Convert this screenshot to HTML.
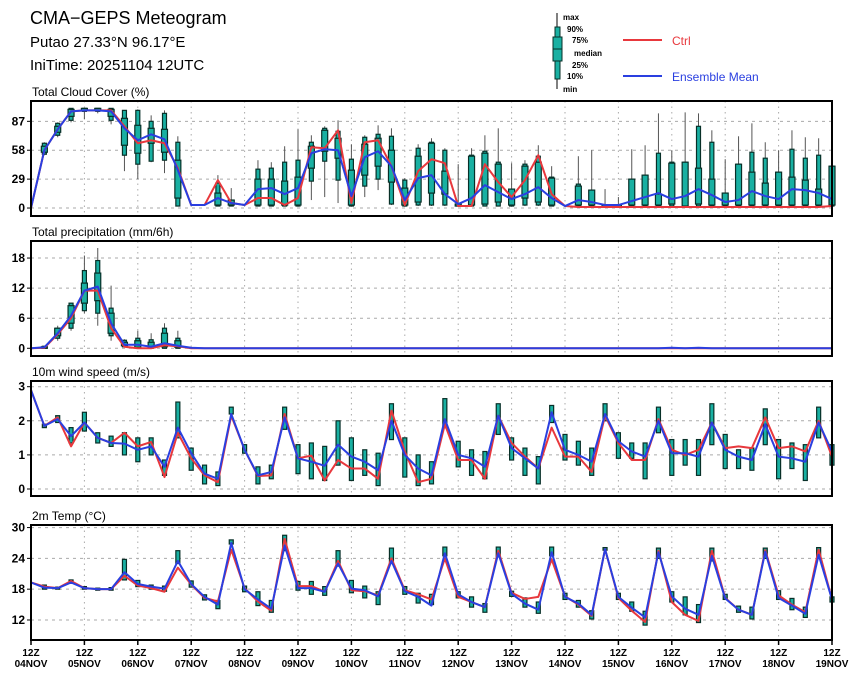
<!DOCTYPE html>
<html><head><meta charset="utf-8"><style>
body{margin:0;background:#fff}
svg{display:block;font-family:"Liberation Sans",sans-serif}
</style></head><body>
<svg id="chart" width="860" height="678" viewBox="0 0 860 678" xmlns="http://www.w3.org/2000/svg">
<rect width="860" height="678" fill="#fff"/>
<text x="30" y="24" font-size="18">CMA−GEPS Meteogram</text>
<text x="30" y="47" font-size="15">Putao 27.33°N 96.17°E</text>
<text x="30" y="70" font-size="15">IniTime: 20251104 12UTC</text>
<g font-size="8" font-weight="bold">
<line x1="557" y1="13" x2="557" y2="89" stroke="#000" stroke-width="1"/>
<rect x="555" y="27" width="5" height="52" fill="#19b0a2" stroke="#083028"/>
<rect x="553" y="37" width="9" height="24" fill="#19b0a2" stroke="#083028"/>
<line x1="553" y1="49" x2="562" y2="49" stroke="#083028"/>
<text x="563" y="20">max</text><text x="567" y="32">90%</text><text x="572" y="43">75%</text>
<text x="574" y="56">median</text><text x="572" y="68">25%</text><text x="567" y="79">10%</text><text x="563" y="92">min</text>
<line x1="623" y1="40" x2="662" y2="40" stroke="#e8383d" stroke-width="2"/>
<text x="672" y="45" font-size="12" font-weight="normal" fill="#e8383d">Ctrl</text>
<line x1="623" y1="76" x2="662" y2="76" stroke="#2a3fe0" stroke-width="2"/>
<text x="672" y="81" font-size="12" font-weight="normal" fill="#2a3fe0">Ensemble Mean</text>
</g>
</svg>
<script>
const N = 61;
const cloudMean = [0,58,79,97,98,98,97,80,68,74,69,38,3,3,10,5,3,19,20,14,20,55,59,58,12,51,57,42,8,30,33,14,4,10,23,16,9,14,21,10,2,8,6,3,3,7,11,15,9,12,19,13,6,8,17,12,9,19,18,15,9];
const cloudCtrl = [0,58,79,97,98,98,98,82,65,68,65,40,3,3,28,5,3,10,10,3,10,61,60,78,5,66,68,42,3,37,49,45,2,2,44,26,11,28,53,14,2,1,1,1,1,1,1,1,1,1,1,1,1,1,1,1,1,1,1,1,2];
const cloudP10 = [null,54,73,88,97,97,88,53,44,47,48,2,null,null,2,2,null,2,2,2,2,27,47,28,2,22,29,4,2,3,3,3,2,2,2,2,2,3,3,2,null,2,2,2,2,2,2,2,2,2,2,2,2,2,2,2,2,2,2,2,2];
const cloudP25 = [null,56,76,92,98,98,92,63,55,65,56,10,null,null,3,3,null,3,3,3,3,40,57,50,3,33,42,26,3,6,15,14,2,3,4,6,3,10,6,3,null,3,3,2,2,3,3,3,4,2,4,3,3,3,3,3,3,3,3,3,3];
const cloudP75 = [null,62,82,99,100,100,99,90,83,80,79,48,null,null,15,8,null,29,29,27,31,62,78,70,38,64,70,58,20,52,65,37,4,52,55,44,19,42,46,30,null,22,18,3,3,29,33,14,45,46,40,29,15,44,36,25,36,31,28,19,42];
const cloudP90 = [null,65,85,100,100,100,100,98,98,87,95,66,null,null,25,8,null,39,40,46,48,66,80,77,49,71,74,72,28,60,66,58,4,53,57,46,19,44,52,31,null,24,18,3,3,29,33,55,46,46,82,66,15,44,56,50,36,59,50,53,42];
const cloudMin = [null,53,71,86,89,95,84,37,29,46,35,2,null,null,2,2,null,2,2,2,2,8,11,5,2,11,18,3,2,2,2,2,2,2,2,2,2,2,2,2,null,2,2,2,2,2,2,2,2,2,2,2,2,2,2,2,2,2,2,2,2];
const cloudMax = [null,66,86,100,100,100,100,98,99,93,98,72,null,null,33,20,null,48,46,62,79,73,82,88,64,73,83,80,30,64,70,60,44,60,73,80,45,48,63,42,null,52,58,19,11,59,63,95,58,96,95,78,49,72,85,66,58,78,71,70,42];

const precipMean = [0,0.2,3,6.5,11.5,12.3,5,0.7,0.7,0.3,1,0.5,0.1,0,0,0,0,0,0,0,0,0,0,0,0,0,0,0,0,0,0,0,0,0,0,0,0,0,0,0,0,0,0,0,0,0,0,0,0.1,0,0.1,0,0,0,0,0,0,0,0,0,0];
const precipCtrl = [0,0.1,2.8,6,11.5,11.5,4,0.3,0,0,0.6,0.4,0,0,0,0,0,0,0,0,0,0,0,0,0,0,0,0,0,0,0,0,0,0,0,0,0,0,0,0,0,0,0,0,0,0,0,0,0,0,0,0,0,0,0,0,0,0,0,0,0];
const precipP10 = [null,0,2,4,7.5,7,2.5,0.3,0,0,0,0];
const precipP25 = [null,0.1,2.5,5,9,9.5,3,0.5,0.2,0.1,0.3,0.2];
const precipP75 = [null,0.3,4,8.5,13,15,7,1.2,1.5,1.2,3,1.5];
const precipP90 = [null,0.4,4,9,15.5,17.5,8,1.6,2,1.7,4,2];
const precipMin = [null,0,1.5,3.5,7,4.5,1.5,0.2,0,0,0,0];
const precipMax = [null,0.5,4.5,9,18.5,20,12.5,1.8,3.5,3,5,3.5,0.5,0,0,0,0,0,0,0,0,0,1.2,0,0,0,0,0.8,0,0,0,0,0,0,0,0,0,0,0,0,0,0,0,0,0,0,0,0,7.5,0,3.5,0,0,3,0,0,0,0,0,0,0];

const windMean = [2.9,1.85,2.05,1.55,1.95,1.5,1.35,1.33,1.15,1.25,0.65,1.8,1.05,0.45,0.3,2.2,1.15,0.4,0.5,2.1,0.9,0.8,0.68,1.3,0.95,0.8,0.55,2.0,1.0,0.6,0.4,2.05,1.0,0.9,0.65,2.15,1.2,0.9,0.6,2.25,1.15,1.0,0.8,2.2,1.4,1.1,0.95,2.0,1.05,1.05,0.95,1.95,1.15,0.95,0.85,1.9,0.95,0.9,0.8,1.95,1.1];
const windCtrl = [2.9,1.85,2.1,1.25,1.95,1.5,1.35,1.65,1.25,1.38,0.35,1.65,0.9,0.4,0.2,2.15,1.15,0.38,0.4,2.2,0.9,0.98,0.25,0.85,0.6,0.6,0.3,2.3,1.1,0.2,0.3,1.9,0.85,0.85,0.3,2.15,1.35,0.95,0.6,1.8,0.95,0.95,0.5,2.15,1.35,0.85,0.85,2.05,1.15,1.0,1.15,1.95,1.2,1.25,1.2,2.1,1.2,1.25,1.1,2.0,0.95];
const windLo = [null,1.8,1.95,1.35,1.7,1.35,1.25,1.0,0.8,1.0,0.4,1.5,0.55,0.15,0.1,2.2,1.05,0.15,0.3,1.75,0.45,0.3,0.25,0.7,0.25,0.4,0.1,1.45,0.35,0.1,0.15,1.8,0.65,0.4,0.3,1.6,0.85,0.4,0.15,1.95,0.85,0.7,0.4,2.0,0.9,0.9,0.3,1.65,0.4,0.7,0.4,1.3,0.6,0.6,0.55,1.3,0.3,0.6,0.25,1.5,0.7];
const windHi = [null,1.9,2.15,1.8,2.25,1.65,1.55,1.65,1.5,1.5,0.85,2.55,1.2,0.7,0.5,2.4,1.3,0.65,0.7,2.4,1.3,1.35,1.25,2.0,1.5,1.15,1.05,2.5,1.5,1.0,0.8,2.65,1.4,1.15,1.1,2.5,1.5,1.2,0.95,2.45,1.6,1.4,1.2,2.5,1.65,1.35,1.35,2.4,1.45,1.45,1.45,2.5,1.6,1.15,1.2,2.35,1.45,1.35,1.3,2.4,1.3];

const tempMean = [19.3,18.3,18.2,19.3,18.2,18,18,21.3,19,18.5,18.1,23.5,19,16.5,15,27,18,16,14.2,26.5,18.2,18.2,17.5,23,18.1,17.8,16.6,23.5,17.6,16.5,14.8,25,17,15.5,14.5,25,17.1,15.2,14,25.2,16.5,15.2,13,25.8,16.5,14.4,12.5,25.2,16.6,14.2,13,24.5,16.2,14,13,25.3,16.3,14.8,13.2,24.7,16];
const tempCtrl = [19.3,18.5,18.2,19.6,18.2,18,18,20.6,18.7,18.2,17.5,22.2,18.9,16.3,15.6,25.7,18.2,15.6,13.8,27.8,18.6,18.6,17.5,23.5,17.8,17.6,16.8,24,17.8,17,16,24,16.5,15.5,14.5,25.5,17.3,16.1,16.5,23.8,16.6,15,12.8,25.8,16.3,13.8,11.6,25.5,15.5,13,11.8,25.5,16.3,14,13,25.6,16.8,15,13.5,25.7,16];
const tempLo = [null,18,18,19.2,18,17.8,17.8,19.8,18.5,18,17.6,23,18.4,15.9,14.2,26.8,17.5,14.8,13.5,25.5,17.8,17,16.8,22.5,17.3,16.3,15,23,17,15.3,15,24.5,16.3,14.5,13.5,24.3,16.6,14.5,13.3,24.5,16,14.5,12.2,25.6,16,13.7,11,24,15.5,13,11.5,23.5,16,13.5,12.2,24,16,14,12.5,24.3,15.5];
const tempHi = [null,18.8,18.4,19.8,18.5,18.2,18.3,23.8,19.7,18.8,18.6,25.5,19.6,16.9,15.8,27.6,18.6,17.5,15.8,28.5,19.5,19.5,18.5,25.5,19.7,18.6,17.5,26,18.5,17.2,17,26.2,17.5,16.5,15.2,26.2,17.6,16.3,15.5,26.2,17.2,15.8,13.8,26.1,17.2,15.5,13.7,26,17.5,16.5,15,26,17,14.7,14.5,26,17.7,16.2,14.5,26.1,16.5];

const dayLabels = ["04NOV","05NOV","06NOV","07NOV","08NOV","09NOV","10NOV","11NOV","12NOV","13NOV","14NOV","15NOV","16NOV","17NOV","18NOV","19NOV"];
const cloudTicks = [0,29,58,87];
const precipTicks = [0,6,12,18];
const windTicks = [0,1,2,3];
const tempTicks = [12,18,24,30];

const svg = document.getElementById('chart');
const NS = 'http://www.w3.org/2000/svg';
const X0 = 31, X1 = 832;
function xs(i){ return X0 + (X1 - X0) * i / (N - 1); }
function mk(tag, attrs, parent){
  const e = document.createElementNS(NS, tag);
  for (const k in attrs) e.setAttribute(k, attrs[k]);
  (parent || svg).appendChild(e);
  return e;
}
function v(a,i){ return (a && i < a.length) ? a[i] : null; }

function panel(cfg){
  const g = mk('g', {});
  
  
  const ys = val => cfg.bottom - (val - cfg.vmin) / (cfg.vmax - cfg.vmin) * (cfg.bottom - cfg.top);
  const t = mk('text', {x: 32, y: cfg.top - 5, 'font-size': 12}, g);
  
  
  t.textContent = cfg.title;
  for (let d = 1; d < 15; d++){
    const x = xs(d * 4);
    mk('line', {x1: x, x2: x, y1: cfg.top, y2: cfg.bottom, stroke: '#aaa', 'stroke-dasharray': '1.5,4', 'stroke-width': 1}, g);
  }
  cfg.ticks.forEach(tv => {
    const y = ys(tv);
    mk('line', {x1: X0, x2: X1, y1: y, y2: y, stroke: '#aaa', 'stroke-dasharray': '3,4', 'stroke-width': 1}, g);
    mk('line', {x1: X0 - 4, x2: X0, y1: y, y2: y, stroke: '#000'}, g);
    const lb = mk('text', {x: 25, y: y + 4, 'font-size': 12, 'font-weight': 'bold', 'text-anchor': 'end'}, g);
    
    
    lb.textContent = tv;
  });
  for (let i = 1; i < N; i++){
    const x = xs(i);
    const mn = v(cfg.min, i), mx = v(cfg.max, i);
    if (mn != null && mx != null && mx > mn){
      mk('line', {x1: x, x2: x, y1: ys(mn), y2: ys(mx), stroke: '#555', 'stroke-width': 1}, g);
    }
    const lo = v(cfg.p10, i), hi = v(cfg.p90, i);
    if (lo != null && hi != null){
      const r = mk('rect', {x: x - 2, y: ys(hi), width: 4, height: Math.max(1.5, ys(lo) - ys(hi)), fill: '#19b0a2', stroke: '#083028', 'stroke-width': 1.2}, g);
      
      
    }
    const q1 = v(cfg.p25, i), q3 = v(cfg.p75, i);
    if (q1 != null && q3 != null){
      mk('rect', {x: x - 3, y: ys(q3), width: 6, height: Math.max(1.5, ys(q1) - ys(q3)), fill: '#19b0a2', stroke: '#083028', 'stroke-width': 1.2}, g);
    }
  }
  const line = (arr, col, nm) => {
    const p = mk('polyline', {points: arr.map((val, i) => xs(i) + ',' + ys(val)).join(' '), fill: 'none', stroke: col, 'stroke-width': 2, 'stroke-linejoin': 'round'}, g);
    
    
  };
  line(cfg.ctrl, '#e8383d', 'ctrl-line');
  line(cfg.mean, '#2a3fe0', 'ensemble-mean-line');
  mk('rect', {x: X0, y: cfg.top, width: X1 - X0, height: cfg.bottom - cfg.top, fill: 'none', stroke: '#000', 'stroke-width': 2}, g);
}

panel({name:'cloud-cover-panel', title:'Total Cloud Cover (%)', top:101, bottom:216, vmin:-8, vmax:107.4, ticks:cloudTicks,
  mean:cloudMean, ctrl:cloudCtrl, p10:cloudP10, p25:cloudP25, p75:cloudP75, p90:cloudP90, min:cloudMin, max:cloudMax});
panel({name:'precipitation-panel', title:'Total precipitation (mm/6h)', top:241, bottom:356, vmin:-1.54, vmax:21.4, ticks:precipTicks,
  mean:precipMean, ctrl:precipCtrl, p10:precipP10, p25:precipP25, p75:precipP75, p90:precipP90, min:precipMin, max:precipMax});
panel({name:'wind-speed-panel', title:'10m wind speed (m/s)', top:381, bottom:496, vmin:-0.205, vmax:3.167, ticks:windTicks,
  mean:windMean, ctrl:windCtrl, p10:windLo, p90:windHi});
panel({name:'temperature-panel', title:'2m Temp (°C)', top:525, bottom:640, vmin:8.1, vmax:30.5, ticks:tempTicks,
  mean:tempMean, ctrl:tempCtrl, p10:tempLo, p90:tempHi});

dayLabels.forEach((d, k) => {
  const x = xs(k * 4);
  mk('line', {x1: x, x2: x, y1: 640, y2: 645, stroke: '#000', 'stroke-width': 1.5});
  const t1 = mk('text', {x: x, y: 656, 'font-size': 10, 'font-weight': 'bold', 'text-anchor': 'middle'});
  
  
  t1.textContent = '12Z';
  const t2 = mk('text', {x: x, y: 667, 'font-size': 10, 'font-weight': 'bold', 'text-anchor': 'middle'});
  
  
  t2.textContent = d;
});
</script>
</body></html>
